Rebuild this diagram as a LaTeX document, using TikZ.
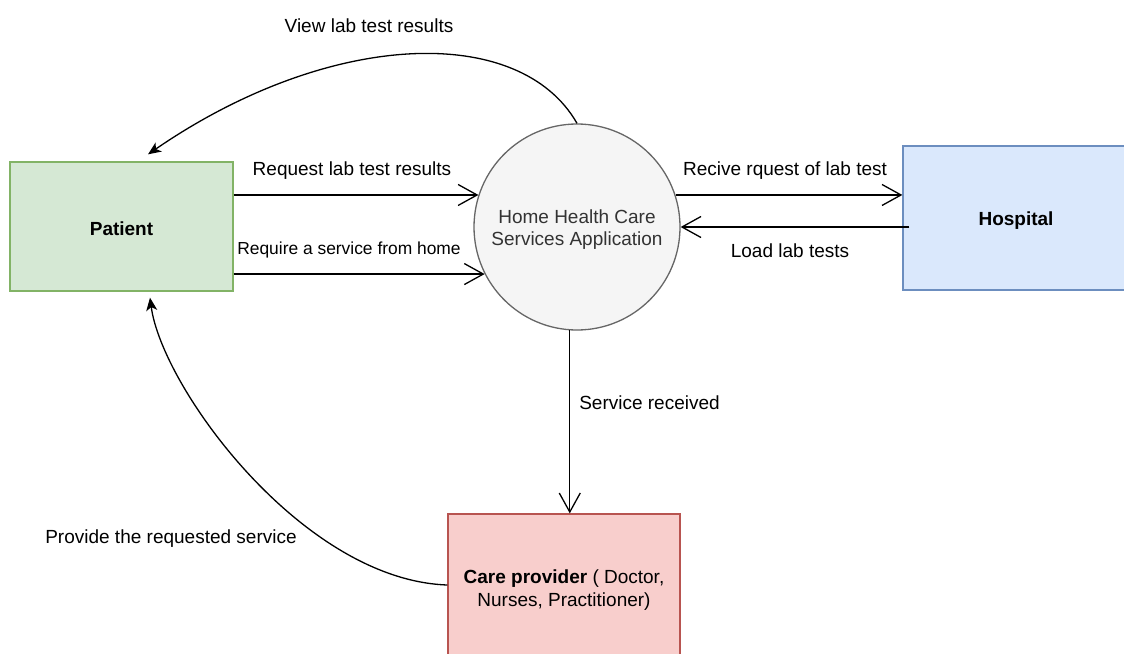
\documentclass[tikz,border=0pt]{standalone}
\usepackage{fontspec}
\setmainfont{Liberation Sans}
\usetikzlibrary{arrows.meta,calc}

\definecolor{patientfill}{HTML}{D5E8D4}
\definecolor{patientline}{HTML}{82B366}
\definecolor{hospfill}{HTML}{DAE8FC}
\definecolor{hospline}{HTML}{6C8EBF}
\definecolor{carefill}{HTML}{F8CECC}
\definecolor{careline}{HTML}{B85450}
\definecolor{appfill}{HTML}{F5F5F5}
\definecolor{appline}{HTML}{666666}
\definecolor{apptext}{HTML}{333333}

\tikzset{
  entity/.style={rectangle, line width=1.3pt, inner sep=0pt},
  boxtext/.style={inner sep=0pt, align=center, yshift=-2.5pt,
    font=\fontsize{19}{23}\selectfont},
  process/.style={circle, fill=appfill, draw=appline, line width=1.3pt,
    minimum size=206pt, inner sep=0pt},
  proctext/.style={inner sep=0pt, align=center, text=apptext, yshift=-2.5pt,
    font=\fontsize{19}{22}\selectfont},
  lbl/.style={inner sep=0pt, yshift=-2.5pt, font=\fontsize{19}{22}\selectfont},
  smalllbl/.style={inner sep=0pt, yshift=-2pt, font=\fontsize{17.4}{20}\selectfont},
  flow/.style={line width=1.3pt, -{Straight Barb[length=19pt,width=21pt,line width=1.3pt]}},
  curved/.style={line width=1.3pt, -{Stealth[length=13pt,width=11pt,inset=3.5pt]}}
}

\begin{document}
\begin{tikzpicture}[x=1pt,y=-1pt]
  \clip (0,0) rectangle (1124,653);
  \fill[white] (0,0) rectangle (1124,653);

  % external entities and the central process
  \node[entity, fill=patientfill, draw=patientline,
        minimum width=223pt, minimum height=129pt,
        label={[boxtext]center:\bfseries Patient}] (patient) at (121.5,226.5) {};
  \node[entity, fill=hospfill, draw=hospline,
        minimum width=226pt, minimum height=144pt,
        label={[boxtext]center:\bfseries Hospital}] (hospital) at (1016,218) {};
  \node[entity, fill=carefill, draw=careline,
        minimum width=232pt, minimum height=148pt,
        label={[boxtext]center:{\textbf{Care provider} ( Doctor,\\ Nurses, Practitioner)}}] (care) at (564,588) {};
  \node[process, label={[proctext]center:{Home Health Care\\Services Application}}] (app) at (577,227) {};

  % data flow labels
  \node[lbl] (lview) at (369,23) {View lab test results};
  \node[lbl] (lreq) at (352,168) {Request lab test results};
  \node[smalllbl] (lserv) at (349,248) {Require a service from home};
  \node[lbl] (lrecv) at (785,168) {Recive rquest of lab test};
  \node[lbl] (lload) at (790,248) {Load lab tests};
  \node[lbl] (ldone) at (649.5,400) {Service received};
  \node[lbl] (lprov) at (171,536) {Provide the requested service};

  % straight flows
  \draw[flow] (app.162 -| patient.east) -- (app.162);
  \draw[flow] (app.207 -| patient.east) -- (app.207);
  \draw[flow] (app.18) -- (app.18 -| hospital.west);
  \draw[flow] ([xshift=7pt]app.0 -| hospital.west) -- (app.0);
  \draw[flow] (app.266) -- (app.266 |- care.north);

  % curved flows back to the patient
  \coordinate (viewend) at ([xshift=26.5pt,yshift=7pt]patient.north);
  \coordinate (provend) at ([xshift=28.5pt,yshift=-6pt]patient.south);
  \draw[curved] (app.north) .. controls +(-57,-100) and +(182,-125) .. (viewend);
  \draw[curved] ([yshift=3pt]care.west) .. controls +(-145,-5) and +(12,90) .. (provend);
\end{tikzpicture}
\end{document}
